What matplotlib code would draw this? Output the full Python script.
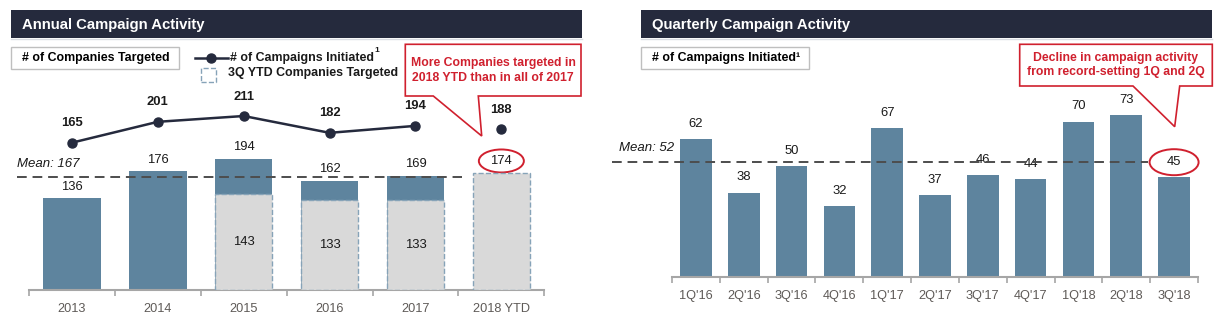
import numpy as np
import matplotlib.pyplot as plt
from matplotlib.patches import Rectangle, Polygon, Ellipse
from matplotlib.lines import Line2D
from matplotlib.transforms import ScaledTranslation

plt.rcParams['font.family'] = ['Liberation Sans', 'DejaVu Sans']

# Annual data
years = ['2013', '2014', '2015', '2016', '2017', '2018 YTD']
companies_targeted = [136, 176, 194, 162, 169, np.nan]
companies_ytd = [np.nan, np.nan, 143, 133, 133, 174]
campaigns_initiated = [165, 201, 211, 182, 194]
campaigns_2018_ytd = 188
annual_mean = 167

# Quarterly data
quarters = ["1Q'16", "2Q'16", "3Q'16", "4Q'16", "1Q'17", "2Q'17",
            "3Q'17", "4Q'17", "1Q'18", "2Q'18", "3Q'18"]
quarterly_campaigns = [62, 38, 50, 32, 67, 37, 46, 44, 70, 73, 45]
quarterly_mean = 52

NAVY = '#252A3D'
BLUE = '#5E849E'
GREY = '#D9D9D9'
DASH_EDGE = '#86A3B8'
RED = '#D0202E'
AXIS = '#A6A6A6'
TICK_TEXT = '#5E5A57'
TEXT = '#1A1A1A'

W, H = 1224, 321
fig = plt.figure(figsize=(W / 100, H / 100), dpi=100)


def fx(x):
    return x / W


def fy(y):
    return 1 - y / H


def header(x0, x1, title):
    fig.add_artist(Rectangle((fx(x0), fy(38)), (x1 - x0) / W, 28 / H,
                             transform=fig.transFigure, fc=NAVY, ec='none'))
    fig.add_artist(Line2D([fx(x0), fx(x1)], [fy(39), fy(39)], color='#DADDE3', lw=1,
                          transform=fig.transFigure))
    fig.text(fx(x0 + 10.5), fy(24.5), title, color='white', fontsize=10.7,
             fontweight='bold', va='center')


def label_box(x0, x1, text):
    fig.add_artist(Rectangle((fx(x0), fy(69.3)), (x1 - x0) / W, 22.6 / H,
                             transform=fig.transFigure, fc='white', ec='#BFBFBF', lw=1))
    fig.text(fx(x0 + 10.5), fy(58.5), text, fontsize=8.9, fontweight='bold',
             color='black', va='center')


def callout(x0, x1, y0, y1, base_l, base_r, tip, text, text_y):
    pts = [(x0, y0), (x1, y0), (x1, y1), (base_r, y1), tip, (base_l, y1), (x0, y1)]
    fig.add_artist(Polygon([(fx(a), fy(b)) for a, b in pts], closed=True,
                           transform=fig.transFigure, fc='white', ec=RED, lw=1.2,
                           zorder=5))
    fig.text(fx((x0 + x1) / 2), fy(text_y), text, color=RED, fontsize=8.8,
             fontweight='bold', ha='center', va='center', linespacing=1.3, zorder=6)


def style_axis(ax, n, labels):
    for s in ['top', 'left', 'right']:
        ax.spines[s].set_visible(False)
    ax.spines['bottom'].set_color(AXIS)
    ax.spines['bottom'].set_linewidth(1.5)
    ax.set_xlim(-0.5, n - 0.5)
    ax.set_xticks(np.arange(n), labels)
    ax.set_xticks(np.arange(n + 1) - 0.5, minor=True)
    ax.tick_params(axis='x', which='major', length=0, pad=9.5, labelsize=9.2,
                   labelcolor=TICK_TEXT)
    ax.tick_params(axis='x', which='minor', length=4, width=1.2, color=AXIS)
    ax.set_yticks([])


def ring(ax, x, y, w_in, h_in, dy_in):
    e = Ellipse((0, dy_in), w_in, h_in, fc='none', ec=RED, lw=1.4, clip_on=False,
                transform=fig.dpi_scale_trans + ScaledTranslation(x, y, ax.transData))
    ax.add_artist(e)


# ---------------- Annual panel ----------------
header(11, 582, 'Annual Campaign Activity')
label_box(11, 179, '# of Companies Targeted')

fig.add_artist(Line2D([fx(195), fx(228)], [fy(57.7), fy(57.7)], color=NAVY, lw=1.8,
                      transform=fig.transFigure))
fig.add_artist(Line2D([fx(210.7)], [fy(57.7)], color=NAVY, marker='o', ms=6.5,
                      transform=fig.transFigure))
fig.text(fx(230), fy(57.5), '# of Campaigns Initiated', fontsize=8.9,
         fontweight='bold', color=TEXT, va='center')
fig.text(fx(374), fy(51), '1', fontsize=6, fontweight='bold', color=TEXT, va='center')
fig.add_artist(Rectangle((fx(200.7), fy(81.7)), 15 / W, 14 / H, transform=fig.transFigure,
                         fc='white', ec=DASH_EDGE, lw=1, ls='--'))
fig.text(fx(228), fy(73.3), '3Q YTD Companies Targeted', fontsize=8.9,
         fontweight='bold', color=TEXT, va='center')

callout(405.3, 581, 44.3, 96, 433.3, 478.3, (481.7, 136),
        'More Companies targeted in\n2018 YTD than in all of 2017', 70.5)

ax = fig.add_axes([29 / W, 1 - 290 / H, 515.3 / W, 190 / H])
xa = np.arange(len(years))
ax.bar(xa, companies_targeted, width=0.67, color=BLUE, zorder=2)
ax.bar(xa, companies_ytd, width=0.67, color=GREY, edgecolor=DASH_EDGE,
       linestyle='--', linewidth=1, zorder=3)
ax.set_ylim(0, 282)
style_axis(ax, len(years), years)

tops = np.fmax(np.nan_to_num(companies_targeted), np.nan_to_num(companies_ytd))
for i, v in enumerate(tops):
    ax.annotate(f'{v:.0f}', (i, v), xytext=(0, 8.5), textcoords='offset points',
                ha='center', va='center', fontsize=9.4, color=TEXT)
for i, (full, ytd) in enumerate(zip(companies_targeted, companies_ytd)):
    if not np.isnan(full) and not np.isnan(ytd):
        ax.text(i, ytd / 2, f'{ytd:.0f}', ha='center', va='center', fontsize=9.4,
                color=TEXT, zorder=4)

ax.plot([-0.643, 4.538], [annual_mean, annual_mean], color='#4D4D4D', lw=1.4,
        ls=(0, (5, 3)), zorder=5, clip_on=False)
ax.annotate(f'Mean: {annual_mean}', (-0.643, annual_mean), xytext=(0, 9.6),
            textcoords='offset points', ha='left', va='center', fontsize=9.5,
            style='italic', color=TEXT, annotation_clip=False)
ring(ax, 5, companies_ytd[5], 0.45, 0.23, 0.118)

ax2 = ax.twinx()
ax2.set_ylim(-89, 238.6)
ax2.set_yticks([])
for s in ax2.spines.values():
    s.set_visible(False)
ax2.plot(xa[:5], campaigns_initiated, color=NAVY, lw=1.8, marker='o', ms=6.5)
ax2.plot([xa[5]], [campaigns_2018_ytd], color=NAVY, marker='o', ms=6.5)
for i, v in enumerate(campaigns_initiated + [campaigns_2018_ytd]):
    ax2.annotate(f'{v}', (i, v), xytext=(0, 14), textcoords='offset points',
                 ha='center', va='center', fontsize=9.4, fontweight='bold', color=TEXT)

# ---------------- Quarterly panel ----------------
header(641.3, 1212.3, 'Quarterly Campaign Activity')
label_box(641.3, 809.3, '# of Campaigns Initiated\u00b9')
callout(1019.7, 1212.3, 44.3, 86, 1133, 1179.7, (1174.7, 126.7),
        'Decline in campaign activity\nfrom record-setting 1Q and 2Q', 65)

bx = fig.add_axes([672 / W, 1 - 277.3 / H, 526 / W, 177.3 / H])
xq = np.arange(len(quarters))
bx.bar(xq, quarterly_campaigns, width=0.66, color=BLUE, zorder=2)
bx.set_ylim(0, 79.7)
style_axis(bx, len(quarters), quarters)
for i, v in enumerate(quarterly_campaigns):
    bx.annotate(f'{v}', (i, v), xytext=(0, 11), textcoords='offset points',
                ha='center', va='center', fontsize=9.4, color=TEXT)
bx.plot([-1.755, 9.454], [quarterly_mean, quarterly_mean], color='#4D4D4D', lw=1.4,
        ls=(0, (5, 3)), zorder=5, clip_on=False)
bx.annotate(f'Mean: {quarterly_mean}', (-1.615, quarterly_mean), xytext=(0, 9.6),
            textcoords='offset points', ha='left', va='center', fontsize=9.5,
            style='italic', color=TEXT, annotation_clip=False)
ring(bx, 10, quarterly_campaigns[10], 0.49, 0.26, 0.15)

fig.savefig('out.png', dpi=100)
